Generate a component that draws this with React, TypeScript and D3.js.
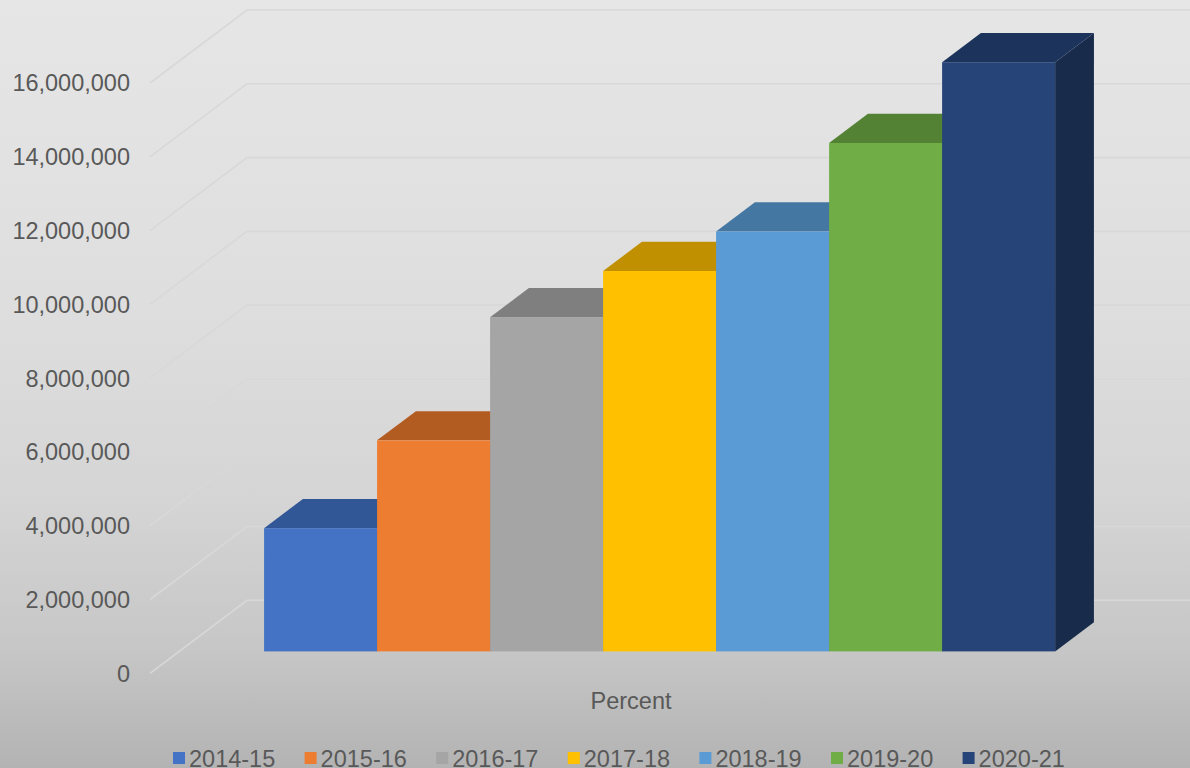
import React from "react";
import * as d3 from "d3";

const seriesNames = ["2014-15", "2015-16", "2016-17", "2017-18", "2018-19", "2019-20", "2020-21"];
const seriesValues = [3340000, 5720000, 9060000, 10310000, 11380000, 13780000, 15970000];
const frontColors = ["#4472c4", "#ed7d31", "#a5a5a5", "#ffc000", "#5b9bd5", "#70ad47", "#264478"];
const topColors = ["#325796", "#b35c22", "#7f7f7f", "#c09000", "#4577a3", "#548235", "#1c335c"];
const sideColors = ["#2b4a80", "#9a4f1d", "#6e6e6e", "#a57c00", "#3b6790", "#48702d", "#182b4b"];
const yTicks = [0, 2000000, 4000000, 6000000, 8000000, 10000000, 12000000, 14000000, 16000000];
const categoryLabel = "Percent";

const W = 1190;
const H = 768;
const DX = 97;
const DY = -73;
const FRONT = 0.3;
const BACK = 0.7;

export default function App() {
  const x = d3.scaleBand<string>().domain(seriesNames).range([150, 1111]).paddingInner(0).paddingOuter(0.752);
  const y = d3.scaleLinear().domain([0, 16000000]).range([673.3, 83]);
  const fmt = d3.format(",");
  const textColor = "#595959";
  const font = "'Liberation Sans', Arial, sans-serif";

  const legendX0 = 173;
  const legendStep = 131.6;

  return (
    <svg width={W} height={H} style={{ position: "absolute", left: 0, top: 0, display: "block" }}>
      <defs>
        <linearGradient id="bg" x1="0" y1="0" x2="0" y2="1">
          <stop offset="0" stopColor="#e6e6e6" />
          <stop offset="0.4" stopColor="#dedede" />
          <stop offset="0.65" stopColor="#d5d5d5" />
          <stop offset="0.85" stopColor="#c6c6c6" />
          <stop offset="1" stopColor="#b3b3b3" />
        </linearGradient>
      </defs>
      <rect x={0} y={0} width={W} height={H} fill="url(#bg)" />
      {/* gridlines: floor-side diagonals and back wall lines */}
      {yTicks.map((t) => {
        const fy = y(t);
        return (
          <path
            key={"g" + t}
            d={`M150,${fy} L${150 + DX},${fy + DY} L${1111 + DX},${fy + DY}`}
            fill="none"
            stroke="#d8d8d8"
            strokeWidth={1.6}
          />
        );
      })}
      {/* y labels */}
      {yTicks.map((t) => (
        <text
          key={"l" + t}
          x={130}
          y={y(t)}
          dy="0.36em"
          textAnchor="end"
          fontFamily={font}
          fontSize={23.5}
          fill={textColor}
        >
          {fmt(t)}
        </text>
      ))}
      {/* bars */}
      {seriesNames.map((s, i) => {
        const x0 = (x(s) as number) + FRONT * DX;
        const x1 = x0 + x.bandwidth();
        const yb = y(0) + FRONT * DY;
        const yt = y(seriesValues[i]) + FRONT * DY;
        const ddx = (BACK - FRONT) * DX;
        const ddy = (BACK - FRONT) * DY;
        return (
          <g key={s}>
            <path
              d={`M${x1},${yt} L${x1 + ddx},${yt + ddy} L${x1 + ddx},${yb + ddy} L${x1},${yb} Z`}
              fill={sideColors[i]}
            />
            <path
              d={`M${x0},${yt} L${x0 + ddx},${yt + ddy} L${x1 + ddx},${yt + ddy} L${x1},${yt} Z`}
              fill={topColors[i]}
            />
            <rect x={x0} y={yt} width={x1 - x0} height={yb - yt} fill={frontColors[i]} />
          </g>
        );
      })}
      {/* category label */}
      <text x={631} y={709} textAnchor="middle" fontFamily={font} fontSize={23.5} fill={textColor}>
        {categoryLabel}
      </text>
      {/* legend */}
      {seriesNames.map((s, i) => (
        <g key={"lg" + s} transform={`translate(${legendX0 + i * legendStep},0)`}>
          <rect x={0} y={752} width={12} height={12} fill={frontColors[i]} />
          <text x={16} y={767} fontFamily={font} fontSize={23.5} fill={textColor}>
            {s}
          </text>
        </g>
      ))}
    </svg>
  );
}
